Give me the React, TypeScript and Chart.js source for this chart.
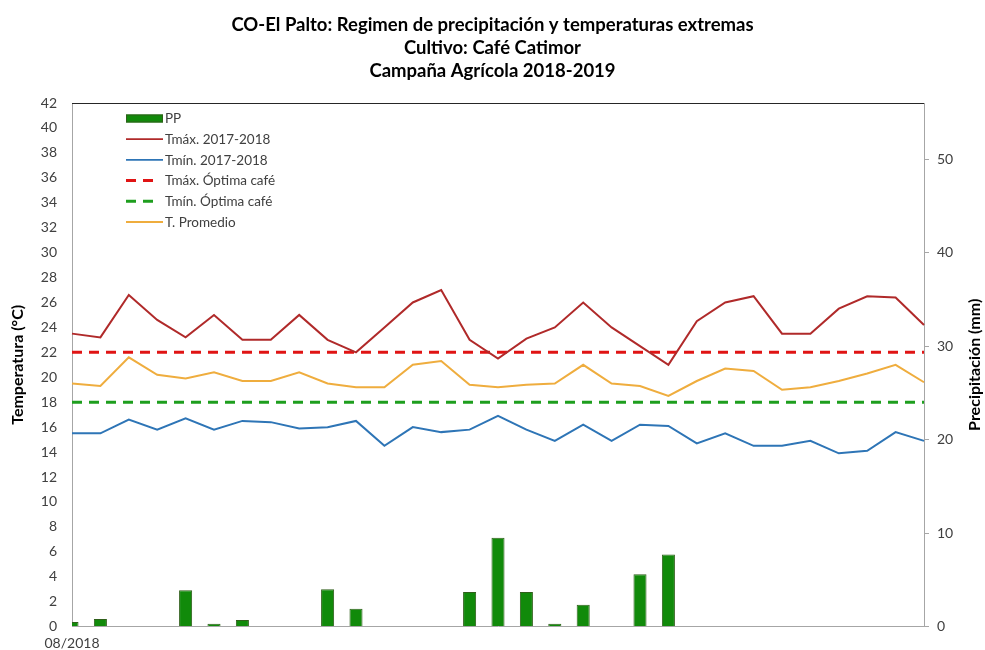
import React, { useEffect, useRef } from "react";
import { Chart, registerables } from "chart.js";

Chart.register(...registerables);

const categories = [
  "08/2018", "", "", "", "", "", "", "", "", "", "",
  "", "", "", "", "", "", "", "", "", "",
  "", "", "", "", "", "", "", "", "", "",
];

const precipitation = [
  0.5, 0.8, 0, 0, 3.9, 0.3, 0.7, 0, 0, 4.0, 1.9,
  0, 0, 0, 3.7, 9.5, 3.7, 0.3, 2.35, 0, 5.6,
  7.7, 0, 0, 0, 0, 0, 0, 0, 0, 0,
];

const tMax = [
  23.5, 23.2, 26.6, 24.6, 23.2, 25.0, 23.0, 23.0, 25.0, 23.0, 22.0,
  24.0, 26.0, 27.0, 23.0, 21.5, 23.1, 24.0, 26.0, 24.0, 22.5,
  21.0, 24.5, 26.0, 26.5, 23.5, 23.5, 25.5, 26.5, 26.4, 24.2,
];

const tMin = [
  15.5, 15.5, 16.6, 15.8, 16.7, 15.8, 16.5, 16.4, 15.9, 16.0, 16.5,
  14.5, 16.0, 15.6, 15.8, 16.9, 15.8, 14.9, 16.2, 14.9, 16.2,
  16.1, 14.7, 15.5, 14.5, 14.5, 14.9, 13.9, 14.1, 15.6, 14.9,
];

const tMaxOptima = [
  22, 22, 22, 22, 22, 22, 22, 22, 22, 22, 22,
  22, 22, 22, 22, 22, 22, 22, 22, 22, 22,
  22, 22, 22, 22, 22, 22, 22, 22, 22, 22,
];

const tMinOptima = [
  18, 18, 18, 18, 18, 18, 18, 18, 18, 18, 18,
  18, 18, 18, 18, 18, 18, 18, 18, 18, 18,
  18, 18, 18, 18, 18, 18, 18, 18, 18, 18,
];

const tPromedio = [
  19.5, 19.3, 21.6, 20.2, 19.9, 20.4, 19.7, 19.7, 20.4, 19.5, 19.2,
  19.2, 21.0, 21.3, 19.4, 19.2, 19.4, 19.5, 21.0, 19.5, 19.3,
  18.5, 19.7, 20.7, 20.5, 19.0, 19.2, 19.7, 20.3, 21.0, 19.6,
];

const titleLines = [
  "CO-El Palto: Regimen de precipitación y temperaturas extremas",
  "Cultivo: Café Catimor",
  "Campaña Agrícola 2018-2019",
];

const leftTitle = "Temperatura (°C)";
const rightTitle = "Precipitación (mm)";

const FONT = "Lato, 'Noto Sans', sans-serif";

const COLORS = {
  barFill: "#118a0a",
  barBorder: "#2f5f1a",
  tMax: "#b02a2a",
  tMin: "#2e75b6",
  tMaxOpt: "#e01414",
  tMinOpt: "#1e9e1e",
  tProm: "#efad3e",
  axis: "#a6a6a6",
  tick: "#404040",
};

const legendItems = [
  { label: "PP", kind: "bar", color: COLORS.barFill, border: COLORS.barBorder },
  { label: "Tmáx. 2017-2018", kind: "line", color: COLORS.tMax },
  { label: "Tmín. 2017-2018", kind: "line", color: COLORS.tMin },
  { label: "Tmáx. Óptima café", kind: "dash", color: COLORS.tMaxOpt },
  { label: "Tmín. Óptima café", kind: "dash", color: COLORS.tMinOpt },
  { label: "T. Promedio", kind: "line", color: COLORS.tProm },
];

const decorPlugin = {
  id: "decor",
  afterDraw(chart: any) {
    const ctx = chart.ctx as CanvasRenderingContext2D;
    const area = chart.chartArea;
    ctx.save();
    // top border line
    ctx.strokeStyle = "#262626";
    ctx.lineWidth = 1.2;
    ctx.beginPath();
    ctx.moveTo(area.left, area.top + 0.5);
    ctx.lineTo(area.right, area.top + 0.5);
    ctx.stroke();

    // title
    ctx.fillStyle = "#000";
    ctx.textAlign = "center";
    ctx.textBaseline = "middle";
    ctx.font = `bold 18.5px ${FONT}`;
    const cx = chart.width / 2;
    const ys = [25, 48, 71];
    titleLines.forEach((t, i) => ctx.fillText(t, cx, ys[i]));

    // axis titles
    ctx.font = `bold 16px ${FONT}`;
    const cy = (area.top + area.bottom) / 2;
    ctx.save();
    ctx.translate(18, cy);
    ctx.rotate(-Math.PI / 2);
    ctx.fillText(leftTitle, 0, 0);
    ctx.restore();
    ctx.save();
    ctx.translate(975, cy);
    ctx.rotate(-Math.PI / 2);
    ctx.fillText(rightTitle, 0, 0);
    ctx.restore();

    // legend
    const x0 = 126;
    const x1 = 163;
    let y = 118.5;
    ctx.font = `13.5px ${FONT}`;
    ctx.textAlign = "left";
    legendItems.forEach((it) => {
      if (it.kind === "bar") {
        ctx.fillStyle = it.color;
        ctx.fillRect(x0, y - 4, x1 - x0, 8);
        ctx.strokeStyle = it.border as string;
        ctx.lineWidth = 1;
        ctx.strokeRect(x0 + 0.5, y - 3.5, x1 - x0 - 1, 7);
      } else if (it.kind === "line") {
        ctx.strokeStyle = it.color;
        ctx.lineWidth = 1.8;
        ctx.beginPath();
        ctx.moveTo(x0, y);
        ctx.lineTo(x1, y);
        ctx.stroke();
      } else {
        ctx.strokeStyle = it.color;
        ctx.lineWidth = 3;
        ctx.beginPath();
        ctx.moveTo(x0, y);
        ctx.lineTo(x0 + 10, y);
        ctx.moveTo(x0 + 17, y);
        ctx.lineTo(x0 + 27, y);
        ctx.stroke();
      }
      ctx.fillStyle = COLORS.tick;
      ctx.fillText(it.label, 165, y + 0.5);
      y += 20.7;
    });
    ctx.restore();
  },
};

export default function App() {
  const canvasRef = useRef<HTMLCanvasElement | null>(null);

  useEffect(() => {
    const canvas = canvasRef.current;
    if (!canvas) return;
    const lineBase = {
      type: "line" as const,
      yAxisID: "y",
      pointRadius: 0,
      pointHoverRadius: 0,
      tension: 0,
      fill: false,
      order: 1,
    };
    const chart = new Chart(canvas, {
      type: "bar",
      data: {
        labels: categories,
        datasets: [
          {
            ...lineBase,
            label: "Tmáx. 2017-2018",
            data: tMax,
            borderColor: COLORS.tMax,
            borderWidth: 2,
          },
          {
            ...lineBase,
            label: "Tmín. 2017-2018",
            data: tMin,
            borderColor: COLORS.tMin,
            borderWidth: 2,
          },
          {
            ...lineBase,
            label: "Tmáx. Óptima café",
            data: tMaxOptima,
            borderColor: COLORS.tMaxOpt,
            borderWidth: 3,
            borderDash: [10, 7],
          },
          {
            ...lineBase,
            label: "Tmín. Óptima café",
            data: tMinOptima,
            borderColor: COLORS.tMinOpt,
            borderWidth: 3,
            borderDash: [10, 7],
          },
          {
            ...lineBase,
            label: "T. Promedio",
            data: tPromedio,
            borderColor: COLORS.tProm,
            borderWidth: 2,
          },
          {
            type: "bar" as const,
            label: "PP",
            data: precipitation,
            yAxisID: "y1",
            backgroundColor: COLORS.barFill,
            borderColor: COLORS.barBorder,
            borderWidth: 1,
            barPercentage: 0.46,
            categoryPercentage: 1,
            clip: { left: 0, top: 0, right: 0, bottom: 2 } as any,
            order: 10,
          },
        ] as any,
      },
      options: {
        responsive: false,
        animation: false,
        layout: { padding: { top: 103, left: 0, right: 0, bottom: 0 } },
        plugins: {
          legend: { display: false },
          title: { display: false },
          tooltip: { enabled: false },
        },
        scales: {
          x: {
            type: "category",
            offset: false,
            grid: { display: true, drawOnChartArea: false, drawTicks: false, offset: false },
            border: { display: true, color: COLORS.axis, width: 1 },
            ticks: {
              autoSkip: false,
              maxRotation: 0,
              minRotation: 0,
              padding: 8,
              color: COLORS.tick,
              font: { family: FONT, size: 14 },
            },
            afterFit: (s: any) => {
              s.height = 23;
            },
          },
          y: {
            type: "linear",
            position: "left",
            min: 0,
            max: 42,
            grid: { display: true, drawOnChartArea: false, drawTicks: false },
            border: { display: true, color: COLORS.axis, width: 1 },
            ticks: {
              stepSize: 2,
              padding: 15,
              color: COLORS.tick,
              font: { family: FONT, size: 14 },
            },
            afterFit: (s: any) => {
              s.width = 72;
            },
          },
          y1: {
            type: "linear",
            position: "right",
            min: 0,
            max: 56,
            grid: {
              display: true,
              drawOnChartArea: false,
              drawTicks: true,
              tickLength: 5,
              color: COLORS.axis,
            },
            border: { display: true, color: COLORS.axis, width: 1 },
            ticks: {
              stepSize: 10,
              includeBounds: false,
              padding: 8,
              color: COLORS.tick,
              font: { family: FONT, size: 14 },
            },
            afterFit: (s: any) => {
              s.width = 61;
            },
          },
        },
      } as any,
      plugins: [decorPlugin],
    });
    return () => chart.destroy();
  }, []);

  return (
    <div
      style={{
        position: "fixed",
        left: 0,
        top: 0,
        width: 985,
        height: 650,
        background: "#fff",
      }}
    >
      <canvas
        ref={canvasRef}
        width={985}
        height={650}
        style={{ display: "block", width: 985, height: 650 }}
      />
    </div>
  );
}
